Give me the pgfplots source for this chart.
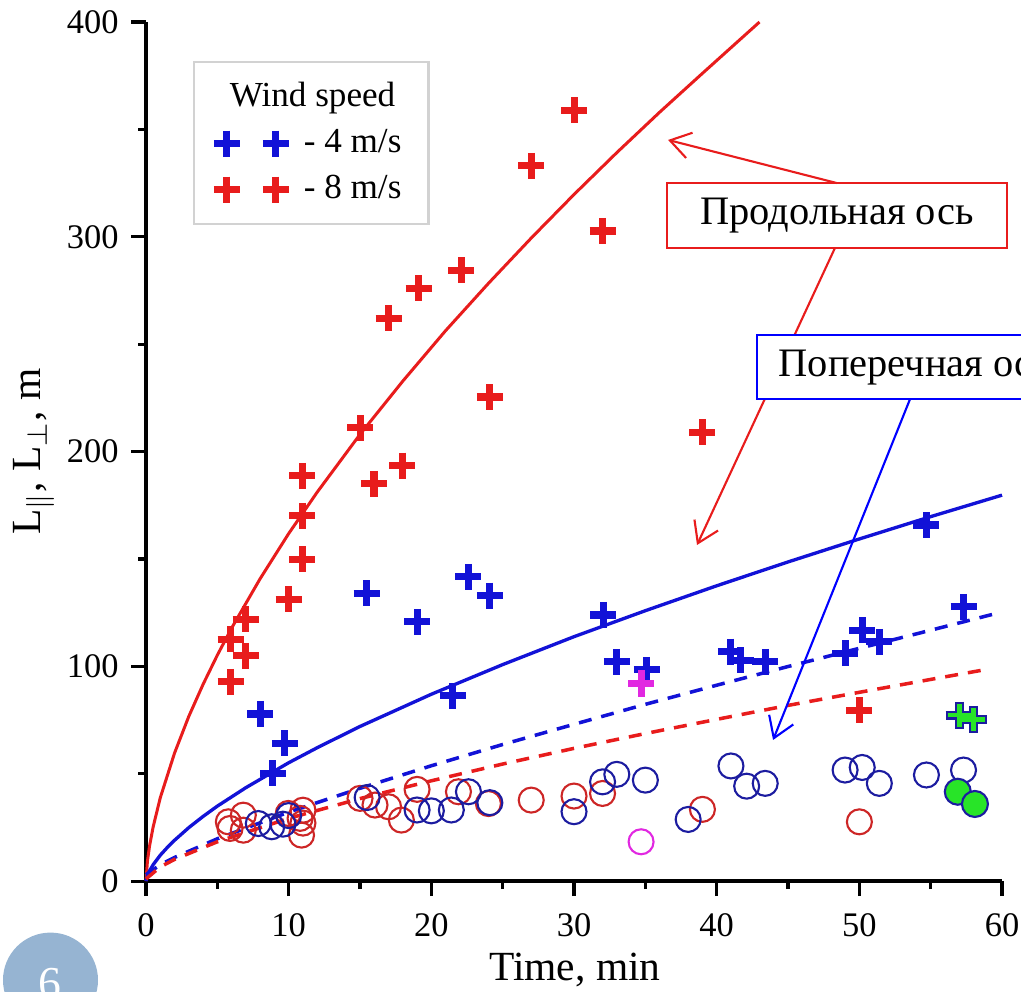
\documentclass[border=0pt]{standalone}
\usepackage{fontspec}
\setmainfont{Liberation Serif}
\usepackage{pgfplots}
\pgfplotsset{compat=1.18}
\usetikzlibrary{arrows.meta}

\definecolor{cred}{RGB}{232,28,28}
\definecolor{cblue}{RGB}{18,18,215}
\definecolor{cnavy}{RGB}{28,28,160}
\definecolor{ocred}{RGB}{205,38,38}
\definecolor{cmag}{RGB}{225,40,225}
\definecolor{cgreen}{RGB}{40,228,40}
\definecolor{sixblue}{RGB}{150,180,210}

\pgfplotsset{twoplus/.style={legend image code/.code={\draw[##1] plot coordinates {(0mm,0mm) (4.9mm,0mm)};}}}

\begin{document}
\begin{tikzpicture}
\begin{axis}[
  scale only axis, width=85.6mm, height=85.9mm,
  xmin=0, xmax=60, ymin=0, ymax=400,
  axis lines*=left, axis line style={line width=1pt},
  tick align=outside, major tick length=1.5mm, minor tick length=0.8mm,
  tick style={line width=0.9pt, black},
  xtick={0,10,...,60}, minor xtick={5,15,...,55},
  ytick={0,100,...,400}, minor ytick={50,150,250,350},
  ticklabel style={font=\fontsize{9.8}{11}\selectfont},
  xticklabel style={yshift=-0.5mm},
  /pgf/number format/assume math mode=true,
  xlabel={Time, min},
  ylabel={L$_{\parallel}$, L$_{\perp}$, m},
  label style={font=\fontsize{11.8}{13}\selectfont},
  xlabel style={at={(rel axis cs:0.501,-0.1036)}, anchor=center},
  ylabel style={at={(rel axis cs:-0.131,0.5)}, anchor=center},
  clip=false,
  legend cell align=left,
  legend style={at={(rel axis cs:0.0546,0.9546)}, anchor=north west,
    draw=gray!35, line width=0.6pt, font=\fontsize{10}{12}\selectfont,
    row sep=0.35mm, inner xsep=2mm, inner ysep=1.3mm},
]
% fitted curves
\addplot[cred, line width=0.85pt, forget plot] coordinates {(0,0) (0.1,9.3) (0.25,16.4) (0.5,25.2) (1,38.8) (2,59.6) (3,76.7) (4,91.6) (5,105.2) (6,117.8) (8,140.8) (10,161.8) (12,181.1) (15,208.0) (18,232.8) (21,256.3) (24,278.3) (27,299.4) (30,319.7) (33,339.2) (36,358.0) (39,376.1) (43,400)};
\addplot[cblue, line width=0.95pt, forget plot] coordinates {(0,0) (0.1,2.6) (0.25,4.8) (0.5,7.6) (1,12.05) (1.5,15.7) (2,19.0) (3,24.9) (4,30.1) (5,34.9) (7,43.5) (10,55.1) (12,62.1) (15,72.0) (20,87.0) (25,100.8) (30,113.8) (35,125.9) (40,137.5) (45,148.6) (50,159.3) (55,169.7) (60,179.7)};
\addplot[cblue, line width=1pt, dash pattern=on 1.3mm off 1.0mm, forget plot] coordinates {(0,3) (1,7.6) (2,11.0) (5,19.7) (10,32.1) (15,43.2) (20,53.7) (25,63.6) (30,73.0) (35,82.3) (40,91.2) (45,99.9) (50,108.4) (55,116.8) (59.4,124.3)};
\addplot[cred, line width=1pt, dash pattern=on 1.3mm off 1.0mm, forget plot] coordinates {(0,1) (1,6.6) (2,10.1) (5,18.3) (10,29.2) (15,38.4) (20,46.7) (25,54.5) (30,61.8) (35,68.7) (40,75.3) (45,81.8) (50,87.9) (55,93.9) (58.7,98.3)};
% open circles
\addplot[only marks, mark=o, mark size=1.25mm, ocred, mark options={line width=0.6pt}, forget plot] coordinates {(5.77,27.6) (5.89,24.5) (6.82,30.7) (6.82,23.7) (9.97,31.5) (10.8,29.2) (11.0,33) (11.0,27) (10.9,21.4) (15.0,38.5) (16.05,35.4) (17.0,34.6) (17.9,28.4) (19.0,42.7) (21.9,41.6) (24.0,36.1) (27.0,37.7) (30.0,39.6) (32.0,40.8) (39.0,33.4) (50.0,27.6)};
\addplot[only marks, mark=o, mark size=1.25mm, cnavy, mark options={line width=0.6pt}, forget plot] coordinates {(7.87,26.8) (8.81,25.3) (9.6,26.5) (10.0,30.5) (15.5,38.9) (19.0,33.1) (20.0,32.7) (21.4,33.1) (22.6,41.6) (24.1,36.5) (30.0,32.3) (32.0,46.2) (33.0,49.7) (35.0,47.0) (38.0,28.7) (41.0,53.6) (42.1,44.2) (43.4,45.5) (49.0,51.7) (50.2,52.9) (51.4,45.5) (54.7,49.4) (57.3,51.7)};
\addplot[only marks, mark=o, mark size=1.25mm, cmag, mark options={line width=0.6pt}, forget plot] coordinates {(34.7,18.3)};
\addplot[only marks, mark=*, mark size=1.3mm, mark options={draw=cnavy, fill=cgreen, line width=0.6pt}, forget plot] coordinates {(56.9,41.6) (58.1,35.9)};
% legend title
\addlegendimage{empty legend}
\addlegendentry{\hspace*{-6.6mm}Wind speed}
% pluses
\addplot[only marks, mark=+, mark size=1.3mm, cblue, mark options={line width=2pt}, twoplus]
  coordinates {(8.0,77.8) (8.9,50.3) (9.74,64.1) (15.46,134.0) (19.0,120.7) (21.5,86.3) (22.6,141.7) (24.1,132.9) (32.05,123.9) (33.0,102.1) (35.1,98.3) (41.0,106.8) (41.7,102.9) (43.4,102.1) (49.0,106.0) (50.2,116.9) (51.4,111.4) (54.7,165.8) (57.3,127.7)};
\addlegendentry{\hspace*{0.8mm}- 4 m/s}
\addplot[only marks, mark=+, mark size=1.3mm, cred, mark options={line width=2pt}, twoplus]
  coordinates {(5.93,112.7) (5.93,92.8) (6.99,122.0) (6.99,104.9) (10.0,131.3) (10.95,188.7) (10.95,170.1) (10.95,149.9) (15.0,211) (15.98,184.9) (17.0,262) (17.96,193.4) (19.1,276) (22.1,284.5) (24.1,225.4) (27.0,333) (30.0,359) (32.0,302.7) (39.0,209) (50.0,79.6)};
\addlegendentry{\hspace*{0.8mm}- 8 m/s}
\addplot[only marks, mark=+, mark size=1.3mm, cmag, mark options={line width=2pt}, forget plot] coordinates {(34.7,92.0)};
\addplot[only marks, mark=+, mark size=1.35mm, cnavy, mark options={line width=2.6pt}, forget plot] coordinates {(57.0,77.3) (58.0,75.3)};
\addplot[only marks, mark=+, mark size=1.15mm, cgreen, mark options={line width=1.3pt}, forget plot] coordinates {(57.0,77.3) (58.0,75.3)};
% annotations
\draw[cred, line width=0.5pt, fill=white] (axis cs:36.52,294.8) rectangle (axis cs:60.35,325.0);
\node[font=\fontsize{11.5}{13}\selectfont] at (axis cs:48.43,309.9) {Продольная ось};
\draw[cred, line width=0.6pt, -{Straight Barb[length=2mm,width=2.6mm]}] (axis cs:48.43,325.0) -- (axis cs:36.59,345.1);
\draw[cred, line width=0.6pt, -{Straight Barb[length=2mm,width=2.6mm]}] (axis cs:48.29,294.8) -- (axis cs:38.62,156.5);
\draw[blue, line width=0.5pt, fill=white] (axis cs:42.83,224.4) rectangle (axis cs:68,254.2);
\node[font=\fontsize{11.5}{13}\selectfont, anchor=west, inner sep=0pt] at (axis cs:44.30,239.3) {Поперечная ось};
\draw[blue, line width=0.6pt, -{Straight Barb[length=2mm,width=2.6mm]}] (axis cs:53.55,224.4) -- (axis cs:43.95,65.7);
% page badge
\fill[sixblue] (axis cs:-6.694,-46.10) circle[radius=4.75mm];
\node[white, font=\fontsize{13}{15}\selectfont] at (axis cs:-6.729,-47.96) {6};
\coordinate (bbl) at (axis cs:-10.234,-51.22);
\coordinate (btr) at (axis cs:61.33,410.25);
\end{axis}
\pgfresetboundingbox
\path[use as bounding box] (bbl) rectangle (btr);
\end{tikzpicture}
\end{document}
